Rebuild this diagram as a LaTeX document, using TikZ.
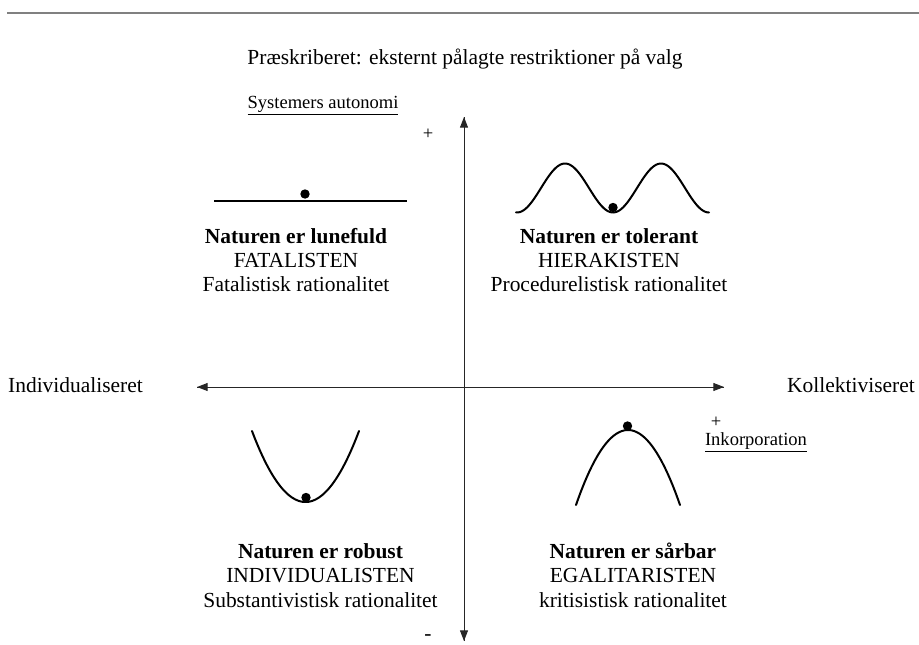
\documentclass[tikz,border=0pt]{standalone}
\usepackage{fontspec}
\setmainfont{Liberation Serif}
\usetikzlibrary{arrows.meta}
\tikzset{
  bigtxt/.style={font=\fontsize{16.1}{19}\selectfont, inner sep=0pt, anchor=base},
  smalltxt/.style={font=\fontsize{13.9}{16}\selectfont, inner sep=0pt, anchor=base},
  axisline/.style={draw=black!85, line width=0.7pt, -{Triangle[length=8pt,width=6pt]}},
  curve/.style={line width=1.5pt, line cap=round},
  ball/.style={fill=black},
}
\begin{document}
\begin{tikzpicture}[x=0.75pt,y=-0.75pt]
\useasboundingbox (0,0) rectangle (919,644);
% top rule
\coordinate (rl) at (7,13);
\coordinate (rr) at (919,13);
\draw[draw=black!50, line width=1.5pt] (rl) -- (rr);
% header
\node[bigtxt] (head) at (465,64) {Præskriberet: eksternt pålagte restriktioner på valg};
\node[smalltxt] (auto) at (323,108) {\underline{Systemers autonomi}};
\node[smalltxt] (plusT) at (428,139) {+};
% axes
\coordinate (vtop) at (464,117);
\coordinate (vbot) at (464,641);
\coordinate (hl) at (197,387);
\coordinate (hr) at (724,387);
\draw[axisline] (vbot) -- (vtop);
\draw[axisline] (vtop) -- (vbot);
\draw[axisline] (hr) -- (hl);
\draw[axisline] (hl) -- (hr);
\node[bigtxt] (indiv) at (75.5,392) {Individualiseret};
\node[bigtxt] (koll) at (851,392) {Kollektiviseret};
\node[smalltxt] (plusR) at (716,427) {+};
\node[smalltxt] (inkorp) at (756,445) {\underline{Inkorporation}};
\node[bigtxt] (minus) at (428,640) {-};
% fatalist
\draw[curve, line cap=butt] (214,200.7) -- (407,200.7);
\fill[ball] (305,194) circle (4.7);
\node[bigtxt] (fat1) at (296,243) {\textbf{Naturen er lunefuld}};
\node[bigtxt] (fat2) at (296,267) {FATALISTEN};
\node[bigtxt] (fat3) at (296,291.5) {Fatalistisk rationalitet};
% hierarchist
\draw[curve] plot[domain=516:709, samples=100, smooth] (\x,{188+24.5*cos(3.75*(\x-613))});
\fill[ball] (613,207.5) circle (4.7);
\node[bigtxt] (hie1) at (609,243) {\textbf{Naturen er tolerant}};
\node[bigtxt] (hie2) at (609,267) {HIERAKISTEN};
\node[bigtxt] (hie3) at (609,291.5) {Procedurelistisk rationalitet};
% individualist
\draw[curve] plot[domain=252:359, samples=60, smooth] (\x,{502-71*((\x-305.5)/53.5)^2});
\fill[ball] (306,497.5) circle (4.7);
\node[bigtxt] (ind1) at (320.5,558) {\textbf{Naturen er robust}};
\node[bigtxt] (ind2) at (320.5,582.5) {INDIVIDUALISTEN};
\node[bigtxt] (ind3) at (320.5,607) {Substantivistisk rationalitet};
% egalitarian
\draw[curve] plot[domain=576:680, samples=60, smooth] (\x,{430+75*((\x-628)/52)^2});
\fill[ball] (627.5,426) circle (4.7);
\node[bigtxt] (ega1) at (633,558) {\textbf{Naturen er sårbar}};
\node[bigtxt] (ega2) at (633,582.5) {EGALITARISTEN};
\node[bigtxt] (ega3) at (633,607) {kritisistisk rationalitet};
\end{tikzpicture}
\end{document}
